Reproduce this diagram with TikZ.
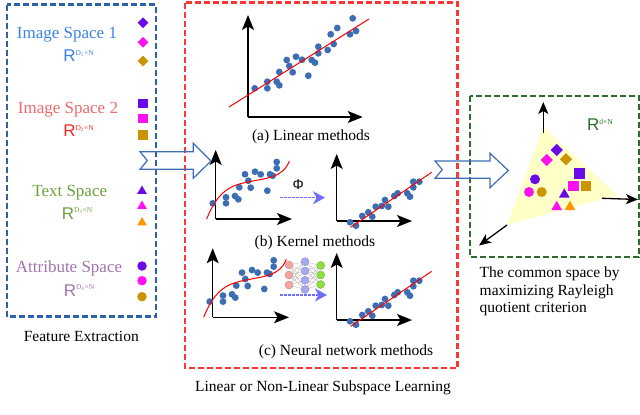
\documentclass[tikz,border=0pt]{standalone}
\usepackage{fontspec}
\setmainfont{Liberation Serif}
\setsansfont{Liberation Sans}
\usepackage{tikz}
\usetikzlibrary{arrows.meta,shapes.geometric}

\definecolor{boxblue}{HTML}{2E62A8}
\definecolor{boxred}{HTML}{FF3535}
\definecolor{boxgreen}{HTML}{2E6B2E}
\definecolor{dotblue}{HTML}{3D6DB2}
\definecolor{mkpurple}{HTML}{6A0AE8}
\definecolor{mkmagenta}{HTML}{FF10F0}
\definecolor{mkgold}{HTML}{C99400}
\definecolor{mkorange}{HTML}{FF9500}
\definecolor{imgone}{HTML}{3A82E6}
\definecolor{imgtwo}{HTML}{F06868}
\definecolor{imgtwoR}{HTML}{F02828}
\definecolor{txtgreen}{HTML}{6FA03F}
\definecolor{attrpurple}{HTML}{A472AE}
\definecolor{phiblue}{HTML}{6F6FFF}
\definecolor{planeyellow}{HTML}{FFFFC8}
\definecolor{arrowblue}{HTML}{3F6DB5}
\definecolor{nnred}{HTML}{F4A4A4}
\definecolor{nnblue}{HTML}{A8A8F0}
\definecolor{nngreen}{HTML}{8EE03C}

\newcommand{\spacedim}[1]{{\sffamily R}\raisebox{6.5pt}{\fontsize{7.5}{7.5}\selectfont #1}}
\newcommand{\bigfont}{\fontsize{17}{20}\selectfont}
\newcommand{\capfont}{\fontsize{15.5}{17.5}\selectfont}

% curved data, left plot of (b) and (c)
\newcommand{\curveplot}{%
  \draw[axis] (215.7,219) -- (215.7,150);
  \draw[axis] (215.7,219) -- (292,219);
  \foreach \p in {(212.7,203.3),(226,197.3),(226,203.3),(235,196),(238.3,199.3),(239.3,187.3),
    (245,174.3),(248.3,180.7),(250.7,187.7),(255,171.7),(260.7,174.3),(267.3,190.7),
    (270,174.3),(272.7,175.7),(276.7,168.3),(276.7,162)}
    \fill[dotblue] \p circle (3.4pt);
  \draw[fitline] (206.7,219) .. controls (218,190) and (232,185) .. (248,182)
    .. controls (266,178) and (283,178) .. (289.3,161);
}
% mapped data, right plot of (b) and (c)
\newcommand{\mappedplot}{%
  \draw[axis] (336.7,221) -- (336.7,154);
  \draw[axis] (336.7,221) -- (412,221);
  \foreach \p in {(350,222.3),(356,225.7),(362.3,216),(368.3,212.3),(372.3,216.7),(375.7,206.7),
    (381.7,206),(385,200),(388.3,206.7),(394.3,196),(397.7,193.3),(407.3,193.3),
    (410,196.7),(413.3,187.3),(413.3,181.7),(419.3,181.7)}
    \fill[dotblue] \p circle (3.4pt);
  \draw[fitline] (350.7,227.3) -- (431.7,172.3);
}

\begin{document}
\begin{tikzpicture}[x=1pt, y=-1pt,
  axis/.style={line width=1.3pt, -{Stealth[length=15pt,width=12pt,inset=3.5pt]}},
  fitline/.style={red, line width=1pt},
  dashbox/.style={line width=2.5pt, dash pattern=on 6pt off 3pt},
  bigarrow/.style={arrowblue, line width=1.2pt, line join=miter},
  phiarrow/.style={phiblue, line width=1.1pt, dash pattern=on 2.5pt off 1.5pt,
    -{Stealth[length=12pt,width=13pt,inset=3.5pt,fill=phiblue]}},
  planearrow/.style={black, line width=1.3pt, -{Stealth[length=12pt,width=10pt,inset=3pt]}},
  dmd/.style={diamond, fill=#1, inner sep=0pt, minimum size=11pt},
  sqr/.style={rectangle, fill=#1, inner sep=0pt, minimum size=9.5pt},
  tri/.style={regular polygon, regular polygon sides=3, fill=#1, inner sep=0pt, minimum size=11pt},
  crc/.style={circle, fill=#1, inner sep=0pt, minimum size=9.5pt},
  nnunit/.style={circle, fill=#1, draw=#1!75!black, line width=0.3pt, inner sep=0pt, minimum size=8pt},
  nnedge/.style={gray!70, line width=0.25pt}]
  \useasboundingbox (0,0) rectangle (640,415);

  % feature extraction
  \draw[dashbox, boxblue] (7,4.5) rectangle (156,316.7);
  \node[imgone, anchor=base] (sp1) at (67,38.3) {\bigfont Image Space 1};
  \node[imgone, anchor=base] (r1) at (78.5,61.7) {\bigfont\spacedim{D\textsubscript{1}×N}};
  \node[imgtwo, anchor=base] (sp2) at (68,113.3) {\bigfont Image Space 2};
  \node[imgtwoR, anchor=base] (r2) at (78.5,136.7) {\bigfont\spacedim{D\textsubscript{2}×N}};
  \node[txtgreen, anchor=base] (sp3) at (69.7,196.7) {\bigfont Text Space};
  \node[txtgreen, anchor=base] (r3) at (77,219.3) {\bigfont\spacedim{D\textsubscript{3}×N}};
  \node[attrpurple, anchor=base] (sp4) at (69,272.7) {\bigfont Attribute Space};
  \node[attrpurple, anchor=base] (r4) at (79,296) {\bigfont\spacedim{D\textsubscript{4}×N}};
  \node[dmd=mkpurple] (d1) at (143,22.7) {};
  \node[dmd=mkmagenta] (d2) at (143,42.3) {};
  \node[dmd=mkgold] (d3) at (143,61) {};
  \node[sqr=mkpurple] (s1) at (143,103.3) {};
  \node[sqr=mkmagenta] (s2) at (143,118.3) {};
  \node[sqr=mkgold] (s3) at (143,135) {};
  \node[tri=mkpurple] (t1) at (142,191) {};
  \node[tri=mkmagenta] (t2) at (142,206) {};
  \node[tri=mkorange] (t3) at (142,222.5) {};
  \node[crc=mkpurple] (c1) at (142,266) {};
  \node[crc=mkmagenta] (c2) at (142,280.7) {};
  \node[crc=mkgold] (c3) at (142,296.7) {};
  \node[anchor=base] (fe) at (81.3,341) {\capfont Feature Extraction};

  % subspace learning
  \draw[dashbox, boxred] (185,2.5) rectangle (457.3,368);
  \node[anchor=base] (sl) at (323,391.7) {\capfont Linear or Non-Linear Subspace Learning};

  % (a) linear
  \draw[axis] (248,117) -- (248,15);
  \draw[axis] (248,117) -- (362.7,117);
  \foreach \p in {(254.7,88.3),(267.3,81.7),(267.3,88.3),(276.7,81.7),(279.3,85.3),(279.3,72),
    (286.7,60),(289.3,66),(292.7,72.3),(296,56.7),(302,59.7),(308.3,75.7),(311.7,60),
    (315,62.7),(318.3,46.7),(318.3,53.3),(327.7,50),(330.7,34.3),(333.7,44),(337.3,28),
    (350,34.3),(352.7,18.3),(356,31)}
    \fill[dotblue] \p circle (3.4pt);
  \draw[fitline] (229,107) -- (369,19);
  \node[anchor=base] (capa) at (311,140) {\capfont (a) Linear methods};

  % (b) kernel
  \curveplot
  \mappedplot
  \coordinate (phis) at (280,197.7);
  \coordinate (phie) at (325,197.7);
  \draw[phiarrow] (phis) -- (phie);
  \node (phi) at (298.3,184.3) {\sffamily\fontsize{14}{14}\selectfont Φ};
  \node[anchor=base] (capb) at (315,246) {\capfont (b) Kernel methods};

  % (c) neural network
  \begin{scope}[shift={(-3,98.3)}]
    \curveplot
  \end{scope}
  \begin{scope}[shift={(0,99)}]
    \mappedplot
  \end{scope}
  \foreach \i/\y in {1/265,2/275,3/285}
    \node[nnunit=nnred] (in\i) at (289,\y) {};
  \foreach \j/\y in {1/261.7,2/271,3/280.3,4/289.5}
    \node[nnunit=nnblue] (hd\j) at (305,\y) {};
  \foreach \k/\y in {1/265.5,2/275,3/284.5}
    \node[nnunit=nngreen] (ou\k) at (320.7,\y) {};
  \foreach \i in {1,2,3}
    \foreach \j in {1,2,3,4}
      \draw[nnedge] (in\i) -- (hd\j);
  \foreach \j in {1,2,3,4}
    \foreach \k in {1,2,3}
      \draw[nnedge] (hd\j) -- (ou\k);
  \coordinate (nns) at (280,295);
  \coordinate (nne) at (327,295);
  \draw[phiarrow] (nns) -- (nne);
  \node[anchor=base] (capc) at (346,355) {\capfont (c) Neural network methods};

  % common space
  \draw[dashbox, boxgreen] (470,96) rectangle (638.8,257);
  \node[boxgreen, anchor=base] (rd) at (600,130.7) {\bigfont\spacedim{d×N}};
  \coordinate (apex) at (543.3,127);
  \coordinate (rcorner) at (617,195);
  \coordinate (lcorner) at (507,225);
  \fill[planeyellow] (apex) -- (rcorner) -- (lcorner) -- cycle;
  \coordinate (uptip) at (543.3,102);
  \coordinate (upfoot) at (543.3,133);
  \coordinate (righttip) at (638,199.5);
  \coordinate (rightfoot) at (602,198.3);
  \coordinate (downtip) at (479,245.5);
  \draw[planearrow] (upfoot) -- (uptip);
  \draw[planearrow] (rightfoot) -- (righttip);
  \draw[planearrow] (lcorner) -- (downtip);
  \node[dmd=mkpurple, minimum size=12.5pt] (cd1) at (556.7,150) {};
  \node[dmd=mkmagenta, minimum size=12.5pt] (cd2) at (546.7,160) {};
  \node[dmd=mkgold, minimum size=12.5pt] (cd3) at (566,159.3) {};
  \node[sqr=mkpurple, minimum size=10.5pt] (cs1) at (579.3,173.3) {};
  \node[sqr=mkmagenta, minimum size=10.5pt] (cs2) at (573.3,186) {};
  \node[sqr=mkgold, minimum size=10.5pt] (cs3) at (586,186) {};
  \node[crc=mkpurple, minimum size=10pt] (cc1) at (535,179.3) {};
  \node[crc=mkmagenta, minimum size=10pt] (cc2) at (529,192) {};
  \node[crc=mkgold, minimum size=10pt] (cc3) at (541.7,192) {};
  \node[tri=mkpurple, minimum size=12.5pt] (ct1) at (564.3,194.5) {};
  \node[tri=mkmagenta, minimum size=12.5pt] (ct2) at (556.7,207) {};
  \node[tri=mkorange, minimum size=12.5pt] (ct3) at (570,207) {};
  \node[anchor=north west, inner sep=0pt, align=left, font=\capfont] (cstext) at (479.5,267)
    {The common space by\\ maximizing Rayleigh\\ quotient criterion};

  % transfer arrows
  \draw[bigarrow] (140,151.7) -- (193.3,151.7) -- (193.3,143.3) -- (211,161) -- (193.3,178.3)
    -- (193.3,169.3) -- (140,169.3) -- (147.3,160.5) -- cycle;
  \draw[bigarrow] (435,161) -- (490,161) -- (490,153.3) -- (508.3,170.5) -- (490,187.7)
    -- (490,178.3) -- (435,178.3) -- (442.3,169.7) -- cycle;
\end{tikzpicture}
\end{document}
